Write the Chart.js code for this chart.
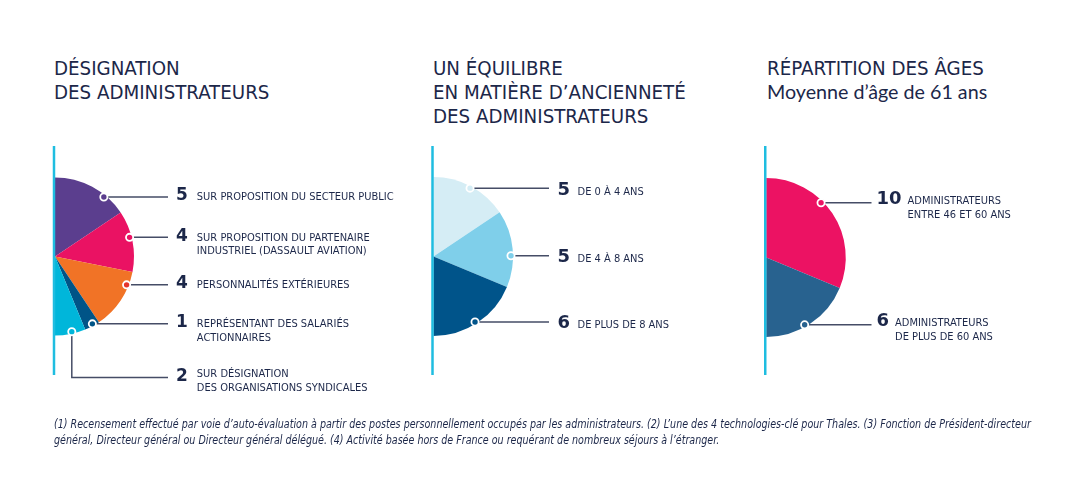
<!DOCTYPE html>
<html lang="fr">
<head>
  <meta charset="UTF-8" />
  <title>Composition du conseil d'administration</title>

  <!-- Chart.js -->
  <script src="https://cdn.jsdelivr.net/npm/chart.js"></script>

  <style>
    body {
      margin: 0; width: 1080px; height: 500px; overflow: hidden;
      position: relative; background: #fff; color: #1c2749;
      font-family: "Liberation Sans Narrow", "DejaVu Sans Condensed", sans-serif;
    }
    canvas { position: absolute; left: 0; top: 0; }
    .title { position: absolute; top: 56px; font-size: 20.3px; line-height: 24px; white-space: nowrap; }
    .title .sub { font-family: Lato, "Noto Sans", sans-serif; font-size: 19.7px; }
    .notes {
      position: absolute; left: 54px; top: 416px; font-size: 11.5px; line-height: 16px;
      font-style: italic; white-space: nowrap; transform-origin: 0 0;
    }
  </style>
</head>
<body>
  <div class="title" style="left:54px">DÉSIGNATION<br>DES ADMINISTRATEURS</div>
  <div class="title" style="left:433px">UN ÉQUILIBRE<br>EN MATIÈRE D’ANCIENNETÉ<br>DES ADMINISTRATEURS</div>
  <div class="title" style="left:767px">RÉPARTITION DES ÂGES<br><span class="sub">Moyenne d’âge de 61 ans</span></div>

  <canvas id="designation" width="1080" height="500"></canvas>
  <canvas id="seniority" width="1080" height="500"></canvas>
  <canvas id="ages" width="1080" height="500"></canvas>

  <div class="notes" id="notes">(1) Recensement effectué par voie d’auto-évaluation à partir des postes personnellement occupés par les administrateurs. (2) L’une des 4 technologies-clé pour Thales. (3) Fonction de Président-directeur<br>général, Directeur général ou Directeur général délégué. (4) Activité basée hors de France ou requérant de nombreux séjours à l’étranger.</div>

  <script>
    // --- data ---
    const designationLabels = [
      ['SUR PROPOSITION DU SECTEUR PUBLIC'],
      ['SUR PROPOSITION DU PARTENAIRE', 'INDUSTRIEL (DASSAULT AVIATION)'],
      ['PERSONNALITÉS EXTÉRIEURES'],
      ['REPRÉSENTANT DES SALARIÉS', 'ACTIONNAIRES'],
      ['SUR DÉSIGNATION', 'DES ORGANISATIONS SYNDICALES'],
    ];
    const designationValues = [5, 4, 4, 1, 2];

    const seniorityLabels = [['DE 0 À 4 ANS'], ['DE 4 À 8 ANS'], ['DE PLUS DE 8 ANS']];
    const seniorityValues = [5, 5, 6];

    const ageLabels = [['ADMINISTRATEURS', 'ENTRE 46 ET 60 ANS'], ['ADMINISTRATEURS', 'DE PLUS DE 60 ANS']];
    const ageValues = [10, 6];

    const NAVY = '#1c2749';

    // footnote: squeeze to the width it has in the original (condensed face)
    const notes = document.getElementById('notes');
    notes.style.transform = `scaleX(${977 / notes.offsetWidth})`;

    // leader lines, dots, counts and the cyan axis line of each half pie
    const calloutPlugin = {
      id: 'callouts',
      afterDatasetsDraw(chart, args, o) {
        const ctx = chart.ctx;
        const ds = chart.data.datasets[0];
        const arcs = chart.getDatasetMeta(0).data;
        ctx.save();

        ctx.strokeStyle = '#1fbde0';
        ctx.lineWidth = 2.5;
        ctx.beginPath();
        ctx.moveTo(arcs[0].x - 1, 146);
        ctx.lineTo(arcs[0].x - 1, 375);
        ctx.stroke();

        arcs.forEach((arc, i) => {
          const p = arc.getProps(['x', 'y', 'startAngle', 'endAngle', 'outerRadius'], true);
          const a = p.startAngle + o.dotAt[i] * (p.endAngle - p.startAngle);
          const dx = p.x + Math.cos(a) * (p.outerRadius - 2);
          const dy = p.y + Math.sin(a) * (p.outerRadius - 2);
          const lineY = o.drop && o.drop[i] ? o.drop[i] : dy;

          ctx.strokeStyle = '#454d66';
          ctx.lineWidth = 1.5;
          ctx.beginPath();
          ctx.moveTo(dx, dy);
          if (lineY !== dy) ctx.lineTo(dx, lineY);
          ctx.lineTo(o.lineEnd, lineY);
          ctx.stroke();

          ctx.beginPath();
          ctx.arc(dx, dy, 3.6, 0, Math.PI * 2);
          ctx.fillStyle = (o.dotColors && o.dotColors[i]) || ds.backgroundColor[i];
          ctx.fill();
          ctx.strokeStyle = '#fff';
          ctx.lineWidth = 1.8;
          ctx.stroke();

          const numX = o.lineEnd + o.numGap;
          const base = lineY + o.numDy;
          ctx.fillStyle = NAVY;
          ctx.textBaseline = 'alphabetic';
          ctx.font = `bold ${o.numSize}px "DejaVu Sans"`;
          ctx.fillText(ds.data[i], numX, base);
          const textX = numX + ctx.measureText(String(ds.data[i])).width + o.textGap;
          const textBase = base + ((o.textDy && o.textDy[i]) || 0);

          ctx.font = '11px "Liberation Sans Narrow", "DejaVu Sans Condensed", sans-serif';
          o.lines[i].forEach((t, k) => ctx.fillText(t, textX, textBase + k * o.lineHeight));
        });
        ctx.restore();
      },
    };

    function buildHalfPie(id, values, colors, padding, callouts) {
      new Chart(document.getElementById(id), {
        type: 'pie',
        data: {
          labels: callouts.lines.map(l => l.join(' ')),
          datasets: [{ data: values, backgroundColor: colors, borderWidth: 0 }],
        },
        options: {
          responsive: false,
          animation: false,
          events: [],
          rotation: 0,
          circumference: 180,
          layout: { padding },
          plugins: {
            legend: { display: false },
            tooltip: { enabled: false },
            callouts,
          },
        },
        plugins: [calloutPlugin],
      });
    }

    buildHalfPie('designation', designationValues,
      ['#5b3e8e', '#ea1263', '#f17326', '#005487', '#00b6da'],
      { left: 55, right: 946, top: 177.5, bottom: 164.5 },
      {
        lines: designationLabels, dotAt: [0.7, 0.43, 0.23, 0.42, 0.44],
        dotColors: [null, null, '#e5352c', null, null], drop: { 4: 377.5 },
        lineEnd: 168, numGap: 8, numSize: 17, numDy: 3.5, textGap: 9, lineHeight: 13.5,
        textDy: { 4: -4 },
      });

    buildHalfPie('seniority', seniorityValues,
      ['#d5edf5', '#7fcfea', '#00548a'],
      { left: 433.5, right: 567, top: 177, bottom: 164 },
      {
        lines: seniorityLabels, dotAt: [0.5, 0.59, 0.52],
        lineEnd: 549, numGap: 8.5, numSize: 18, numDy: 6.5, textGap: 7.5, lineHeight: 14,
      });

    buildHalfPie('ages', ageValues,
      ['#ec1263', '#28628f'],
      { left: 766, right: 234, top: 178, bottom: 163 },
      {
        lines: ageLabels, dotAt: [0.4, 0.56],
        lineEnd: 871.5, numGap: 5, numSize: 18, numDy: 1.5, textGap: 6, lineHeight: 13.5,
      });
  </script>
</body>
</html>
